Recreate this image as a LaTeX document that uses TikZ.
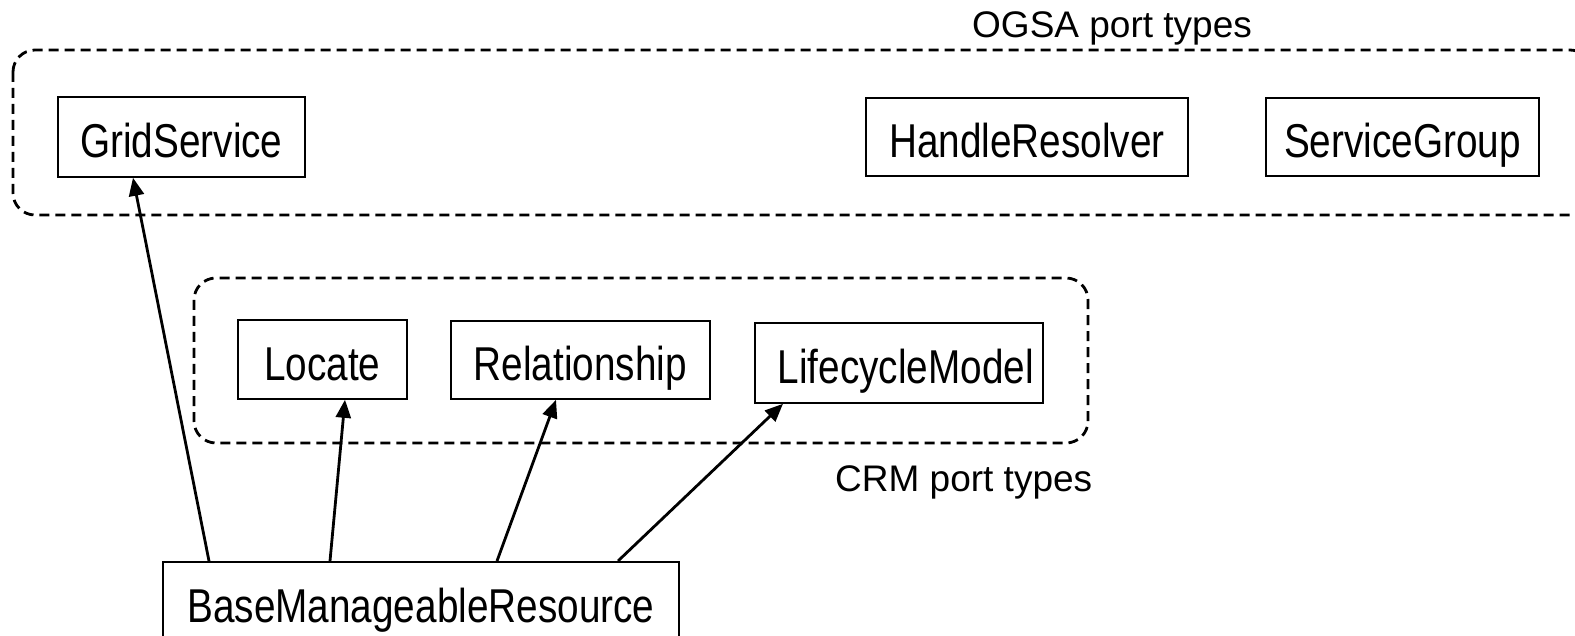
\documentclass[tikz,border=0pt]{standalone}
\usepackage{fontspec}
\setmainfont{Liberation Sans}
\newfontfamily\boxfont{Liberation Sans}[FakeStretch=0.815]
\usetikzlibrary{arrows.meta}
\begin{document}
\begin{tikzpicture}[x=1pt,y=-1pt,
  ptbox/.style={draw,line width=1.8pt,inner sep=0pt,anchor=north west,
    minimum height=80pt,text height=48pt,text depth=6pt,
    font=\boxfont\fontsize{47.5}{56}\selectfont},
  group/.style={draw,line width=2.8pt,dash pattern=on 10pt off 6pt,rounded corners=22pt},
  inherit/.style={line width=2.8pt,-{Triangle[length=18pt,width=15pt]}},
  grouplabel/.style={anchor=base west,inner sep=0pt,font=\fontsize{37}{44}\selectfont}]
\useasboundingbox (0,0) rectangle (1575,636);

% port type groups
\draw[group] (13,50) rectangle (1592,215);
\draw[group] (194,278) rectangle (1088,443);
\node[grouplabel] (ogsalbl) at (972,38) {OGSA port types};
\node[grouplabel] (crmlbl) at (835,491) {CRM port types};

% OGSA port types
\node[ptbox,minimum width=247pt] (grid) at (57,96) {GridService};
\node[ptbox,minimum width=322pt,minimum height=78pt] (handle) at (865,97) {HandleResolver};
\node[ptbox,minimum width=273pt,minimum height=78pt] (sgroup) at (1265,97) {ServiceGroup};

% CRM port types
\node[ptbox,minimum width=169pt,minimum height=79pt] (locate) at (237,319) {Locate};
\node[ptbox,minimum width=259pt,minimum height=78pt] (rel) at (450,320) {Relationship};
\node[ptbox,minimum width=288pt] (life) at (754,322) {\hspace{14pt}LifecycleModel};

% resource type
\node[ptbox,minimum width=516pt] (bmr) at (162,561) {BaseManageableResource};

% inheritance arrows
\draw[inherit] ([xshift=47pt]bmr.north west) -- ([xshift=76pt]grid.south west);
\draw[inherit] ([xshift=168pt]bmr.north west) -- ([xshift=108pt]locate.south west);
\draw[inherit] ([xshift=335pt]bmr.north west) -- ([xshift=106pt]rel.south west);
\draw[inherit] ([xshift=456pt]bmr.north west) -- ([xshift=29pt]life.south west);
\end{tikzpicture}
\end{document}
